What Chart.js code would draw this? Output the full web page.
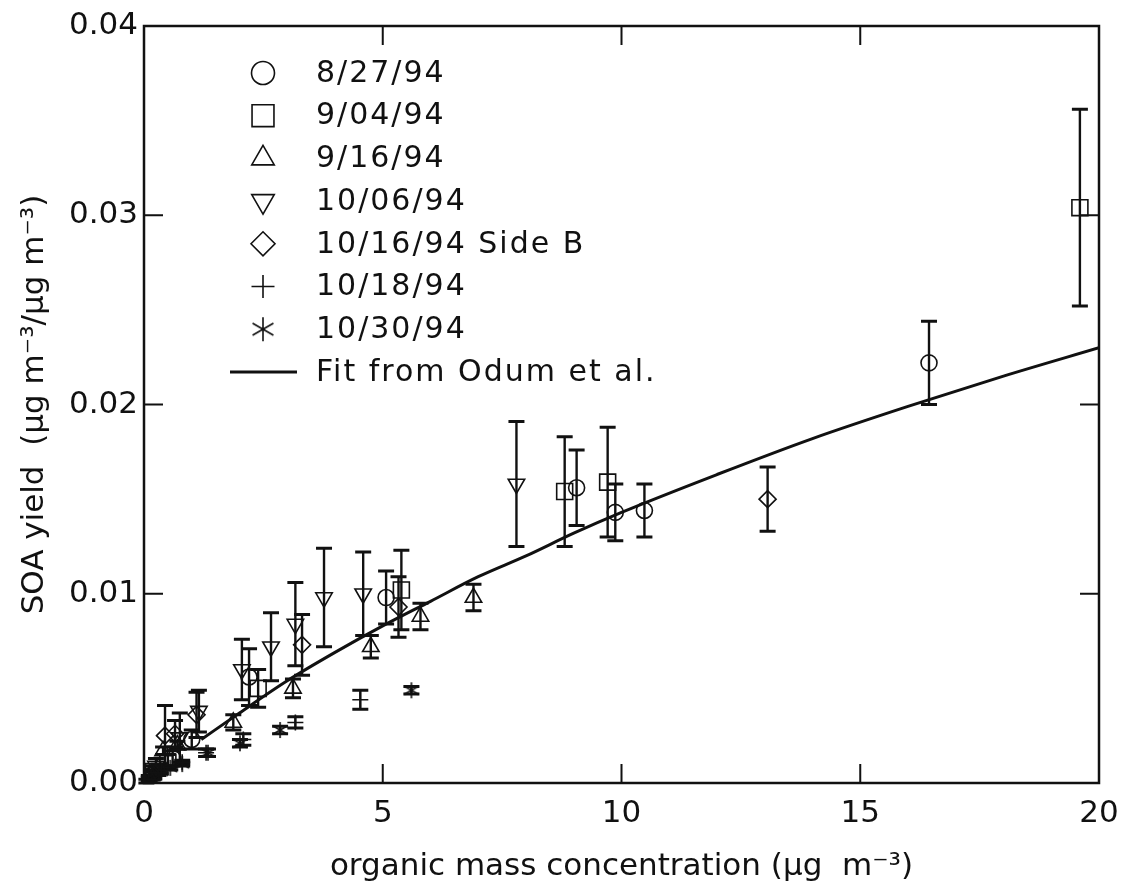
<!DOCTYPE html>
<html><head><meta charset="utf-8">
<script src="https://cdn.jsdelivr.net/npm/chart.js@4.4.0/dist/chart.umd.min.js"></script>
<style>html,body{margin:0;padding:0;background:#fff}</style>
</head><body>
<canvas id="c" width="1124" height="892"></canvas>
<script>
// ---------- data ----------
const seriesNames = ['8/27/94','9/04/94','9/16/94','10/06/94','10/16/94 Side B','10/18/94','10/30/94'];
const fitName = 'Fit from Odum et al.';

const x0827 = [0.15, 0.6, 1.0, 2.2, 5.07, 9.06, 9.87, 10.48, 16.44];
const y0827 = [0.0004, 0.0013, 0.0023, 0.0056, 0.0098, 0.0156, 0.0143, 0.0144, 0.0222];
const e0827 = [0.0002, 0.0004, 0.0005, 0.0015, 0.0014, 0.0020, 0.0015, 0.0014, 0.0022];

const x0904 = [0.2, 0.5, 2.39, 5.39, 8.81, 9.71, 19.6];
const y0904 = [0.0006, 0.0011, 0.0050, 0.0102, 0.0154, 0.0159, 0.0304];
const e0904 = [0.0003, 0.0004, 0.0010, 0.0021, 0.0029, 0.0029, 0.0052];

const x0916 = [0.1, 0.3, 0.4, 0.7, 1.87, 3.12, 4.75, 5.79, 6.9];
const y0916 = [0.0003, 0.0008, 0.0017, 0.0020, 0.0032, 0.0050, 0.0072, 0.0088, 0.0098];
const e0916 = [0.0001, 0.0002, 0.0002, 0.0002, 0.0004, 0.0005, 0.0006, 0.0007, 0.0007];

const x1006 = [0.25, 0.75, 1.15, 2.05, 2.66, 3.17, 3.77, 4.59, 7.8];
const y1006 = [0.0009, 0.0024, 0.0038, 0.0060, 0.0072, 0.0084, 0.0098, 0.0100, 0.0158];
const e1006 = [0.0004, 0.0013, 0.0011, 0.0016, 0.0018, 0.0022, 0.0026, 0.0022, 0.0033];

const x1016 = [0.15, 0.44, 0.65, 1.1, 3.31, 5.33, 13.06];
const y1016 = [0.0005, 0.0025, 0.0026, 0.0036, 0.0073, 0.0093, 0.0150];
const e1016 = [0.0002, 0.0016, 0.0007, 0.0012, 0.0016, 0.0016, 0.0017];

const x1018 = [0.1, 0.3, 0.5, 0.8, 1.3, 2.08, 3.17, 4.53];
const y1018 = [0.0002, 0.0005, 0.0008, 0.0011, 0.0016, 0.0023, 0.0032, 0.0044];
const e1018 = [0.0001, 0.0001, 0.0001, 0.0001, 0.0002, 0.0003, 0.0003, 0.0005];

const x1030 = [0.05, 0.2, 0.35, 0.55, 0.8, 1.34, 2.01, 2.85, 5.6];
const y1030 = [0.0001, 0.0003, 0.0006, 0.0008, 0.0010, 0.0016, 0.0021, 0.0028, 0.0049];
const e1030 = [0.0001, 0.0001, 0.0001, 0.0001, 0.0001, 0.0002, 0.0002, 0.0002, 0.0002];

const fitX = [1.2, 2, 3, 4, 5, 6, 7, 8, 9, 10, 12, 14, 16, 18, 20];
const fitY = [0.0023, 0.0037, 0.0054, 0.0069, 0.0083, 0.0096, 0.0109, 0.0120, 0.0132, 0.0143, 0.0163, 0.0182, 0.0199, 0.0215, 0.0230];

const xTicks = [0, 5, 10, 15, 20];
const xTickLabels = ['0', '5', '10', '15', '20'];
const yTicks = [0, 0.01, 0.02, 0.03, 0.04];
const yTickLabels = ['0.00', '0.01', '0.02', '0.03', '0.04'];
// ---------------------------------------------------

const INK = '#111';
const FONT = "'DejaVu Sans', sans-serif";

function asteriskCanvas(size, lw) {
  const c = document.createElement('canvas');
  c.width = size; c.height = size;
  const g = c.getContext('2d');
  const r = size / 2 - 1, m = size / 2;
  g.strokeStyle = INK; g.lineWidth = lw;
  g.beginPath();
  g.moveTo(m, m - r); g.lineTo(m, m + r);
  const dx = r * 0.87, dy = r * 0.5;
  g.moveTo(m - dx, m - dy); g.lineTo(m + dx, m + dy);
  g.moveTo(m + dx, m - dy); g.lineTo(m - dx, m + dy);
  g.stroke();
  return c;
}
const astSmall = asteriskCanvas(18, 1.6);
const astBig = asteriskCanvas(26, 1.6);

const styles = [
  {pointStyle: 'circle', radius: 8, rotation: 0, lr: 11.5},
  {pointStyle: 'rect', radius: 11.3, rotation: 0, lr: 15.5},
  {pointStyle: 'triangle', radius: 9.5, rotation: 0, lr: 13},
  {pointStyle: 'triangle', radius: 9.5, rotation: 180, lr: 13},
  {pointStyle: 'rectRot', radius: 8.5, rotation: 0, lr: 12},
  {pointStyle: 'cross', radius: 8, rotation: 0, lr: 11.5},
  {pointStyle: astSmall, radius: 9, rotation: 0, lr: 13, legendImg: astBig}
];

const xs = [x0827, x0904, x0916, x1006, x1016, x1018, x1030];
const ys = [y0827, y0904, y0916, y1006, y1016, y1018, y1030];
const es = [e0827, e0904, e0916, e1006, e1016, e1018, e1030];

const datasets = seriesNames.map((name, i) => ({
  type: 'scatter',
  label: name,
  data: xs[i].map((x, k) => ({x: x, y: ys[i][k]})),
  errs: es[i],
  pointStyle: styles[i].pointStyle,
  pointRadius: styles[i].radius,
  pointRotation: styles[i].rotation,
  pointBorderColor: INK,
  pointBackgroundColor: 'rgba(0,0,0,0)',
  pointBorderWidth: 1.6,
  pointHoverRadius: styles[i].radius
}));
datasets.push({
  type: 'line',
  label: fitName,
  data: fitX.map((x, k) => ({x: x, y: fitY[k]})),
  borderColor: INK,
  borderWidth: 3,
  pointRadius: 0,
  cubicInterpolationMode: 'monotone',
  fill: false
});

const errorBars = {
  id: 'errorBars',
  beforeDatasetsDraw(chart) {
    const ctx = chart.ctx, xs_ = chart.scales.x, ys_ = chart.scales.y;
    ctx.save();
    ctx.strokeStyle = INK;
    chart.data.datasets.forEach(ds => {
      if (!ds.errs) return;
      ds.data.forEach((p, k) => {
        const e = ds.errs[k];
        const px = xs_.getPixelForValue(p.x);
        const top = ys_.getPixelForValue(p.y + e);
        const bot = ys_.getPixelForValue(p.y - e);
        ctx.lineWidth = 2.4;
        ctx.beginPath(); ctx.moveTo(px, top); ctx.lineTo(px, bot); ctx.stroke();
        ctx.lineWidth = 3;
        ctx.beginPath();
        ctx.moveTo(px - 8, top); ctx.lineTo(px + 8, top);
        ctx.moveTo(px - 8, bot); ctx.lineTo(px + 8, bot);
        ctx.stroke();
      });
    });
    ctx.restore();
  }
};

const frame = {
  id: 'frame',
  afterDraw(chart) {
    const ctx = chart.ctx, a = chart.chartArea, sx = chart.scales.x, sy = chart.scales.y;
    ctx.save();
    ctx.strokeStyle = INK;
    ctx.lineWidth = 2.5;
    ctx.strokeRect(a.left, a.top, a.right - a.left, a.bottom - a.top);
    ctx.lineWidth = 2;
    const L = 19;
    ctx.beginPath();
    xTicks.forEach(v => {
      const px = sx.getPixelForValue(v);
      if (px <= a.left + 1 || px >= a.right - 1) return;
      ctx.moveTo(px, a.bottom); ctx.lineTo(px, a.bottom - L);
      ctx.moveTo(px, a.top); ctx.lineTo(px, a.top + L);
    });
    yTicks.forEach(v => {
      const py = sy.getPixelForValue(v);
      if (py <= a.top + 1 || py >= a.bottom - 1) return;
      ctx.moveTo(a.left, py); ctx.lineTo(a.left + L, py);
      ctx.moveTo(a.right, py); ctx.lineTo(a.right - L, py);
    });
    ctx.stroke();

    // legend inside plot
    const symX = a.left + 119, txtX = a.left + 172;
    let y = a.top + 47;
    const step = 42.7;
    ctx.font = '30px ' + FONT;
    ctx.letterSpacing = '2px';
    ctx.fillStyle = INK;
    ctx.textBaseline = 'middle';
    ctx.textAlign = 'left';
    seriesNames.forEach((name, i) => {
      const st = styles[i];
      ctx.strokeStyle = INK;
      ctx.fillStyle = 'rgba(0,0,0,0)';
      ctx.lineWidth = 1.6;
      Chart.helpers.drawPoint(ctx, {
        pointStyle: st.legendImg || st.pointStyle,
        radius: st.lr, rotation: st.rotation, borderWidth: 1.6
      }, symX, y);
      ctx.fillStyle = INK;
      ctx.fillText(name, txtX, y + 1);
      y += step;
    });
    ctx.lineWidth = 3;
    ctx.beginPath(); ctx.moveTo(a.left + 86, y); ctx.lineTo(a.left + 153, y); ctx.stroke();
    ctx.fillText(fitName, txtX, y + 1);
    ctx.restore();
  }
};

new Chart(document.getElementById('c'), {
  data: {datasets: datasets},
  options: {
    responsive: false,
    animation: false,
    devicePixelRatio: 1,
    layout: {padding: {top: 26, right: 25, left: 0, bottom: 0}},
    plugins: {legend: {display: false}, tooltip: {enabled: false}},
    scales: {
      x: {
        type: 'linear', min: 0, max: 20,
        afterBuildTicks: s => { s.ticks = xTicks.map(v => ({value: v})); },
        afterFit: s => { s.height = 109; s.paddingLeft = 0; s.paddingRight = 0; },
        grid: {display: false, drawTicks: false},
        border: {display: false},
        ticks: {
          padding: 12, color: INK, font: {family: FONT, size: 31},
          maxRotation: 0,
          callback: (v, i) => xTickLabels[i]
        },
        title: {
          display: true, text: 'organic mass concentration (μg  m⁻³)',
          color: INK, font: {family: FONT, size: 31}, padding: {top: 4, bottom: 6}
        }
      },
      y: {
        type: 'linear', min: 0, max: 0.04,
        afterBuildTicks: s => { s.ticks = yTicks.map(v => ({value: v})); },
        afterFit: s => { s.width = 144; s.paddingTop = 0; s.paddingBottom = 0; },
        grid: {display: false, drawTicks: false},
        border: {display: false},
        ticks: {
          padding: 6, color: INK, font: {family: FONT, size: 31},
          callback: (v, i) => yTickLabels[i]
        },
        title: {
          display: true, text: 'SOA yield  (μg m⁻³/μg m⁻³)',
          color: INK, font: {family: FONT, size: 31}, padding: {top: 16, bottom: 0}
        }
      }
    }
  },
  plugins: [errorBars, frame]
});
</script>
</body></html>
